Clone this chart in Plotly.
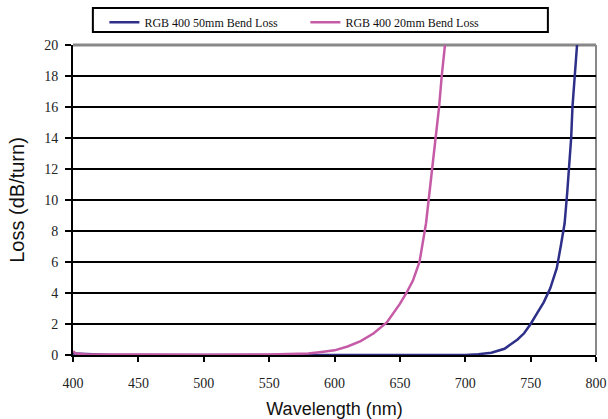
import plotly.graph_objects as go

# 20mm bend loss (pink)
wl_20 = [400, 402, 410, 450, 500, 550, 570, 580, 590, 600, 610, 620, 630, 640, 650, 655, 660, 665, 670, 674, 677, 680, 682, 684.5]
loss_20 = [0.25, 0.1, 0.05, 0.02, 0.02, 0.03, 0.05, 0.1, 0.2, 0.3, 0.55, 0.9, 1.4, 2.1, 3.3, 4.0, 4.8, 6.0, 8.5, 11.5, 14.0, 16.0, 18.0, 20.0]

# 50mm bend loss (navy)
wl_50 = [400, 410, 420, 430, 500, 600, 700, 710, 720, 730, 740, 745, 750, 755, 760, 765, 770, 773, 776, 778, 780, 781, 782, 784, 785.5]
loss_50 = [0.1, 0.08, 0.02, 0.0, 0.0, 0.0, 0.0, 0.05, 0.15, 0.4, 1.0, 1.4, 2.0, 2.7, 3.4, 4.3, 5.6, 7.0, 8.5, 10.5, 12.5, 14.0, 16.0, 18.0, 20.0]

x_ticks = [400, 450, 500, 550, 600, 650, 700, 750, 800]
y_ticks = [0, 2, 4, 6, 8, 10, 12, 14, 16, 18, 20]

fig = go.Figure()
fig.add_trace(go.Scatter(x=wl_50, y=loss_50, mode="lines", name="RGB 400 50mm Bend Loss",
                         line=dict(color="#2d2f88", width=2.5)))
fig.add_trace(go.Scatter(x=wl_20, y=loss_20, mode="lines", name="RGB 400 20mm Bend Loss",
                         line=dict(color="#c55aa7", width=2.5)))

tickfont = dict(family="Liberation Serif, Times New Roman, serif", size=14, color="#222")
xtitlefont = dict(family="Liberation Sans, Arial, sans-serif", size=18, color="#111")
ytitlefont = dict(family="Liberation Sans, Arial, sans-serif", size=20, color="#111")

fig.update_layout(
    width=608, height=419,
    margin=dict(l=73, r=12, t=45, b=64, autoexpand=False),
    paper_bgcolor="white", plot_bgcolor="white",
    showlegend=True,
    legend=dict(orientation="h", x=0.06, xanchor="left", y=1.12, yanchor="top",
                borderwidth=0, bgcolor="rgba(0,0,0,0)",
                font=dict(family="Liberation Serif, Times New Roman, serif", size=12, color="#111"),
                entrywidth=156, itemwidth=30, tracegroupgap=0),
    xaxis=dict(range=[400, 800], tickvals=x_ticks, showgrid=False, zeroline=False,
               showline=True, linecolor="black", linewidth=2,
               ticks="outside", ticklen=5, tickwidth=2, tickcolor="black",
               tickfont=tickfont, automargin=False, ticklabelstandoff=9,
               title=dict(text="Wavelength (nm)", font=xtitlefont, standoff=20)),
    yaxis=dict(range=[0, 20], tickvals=y_ticks, showgrid=True, gridcolor="black", gridwidth=2,
               zeroline=False, showline=True, linecolor="black", linewidth=2,
               ticks="outside", ticklen=6, tickwidth=2, tickcolor="black",
               tickfont=tickfont, automargin=False, ticklabelstandoff=4,
               title=dict(text="Loss (dB/turn)", font=ytitlefont, standoff=14)),
)
# gray top and right frame
fig.add_shape(type="line", xref="paper", yref="paper", x0=0, x1=1, y0=1, y1=1,
              line=dict(color="#888888", width=3), layer="below")
fig.add_shape(type="line", xref="paper", yref="paper", x0=1, x1=1, y0=0, y1=1,
              line=dict(color="#888888", width=2), layer="below")
# legend frame
fig.add_shape(type="rect", xref="paper", yref="paper", x0=0.038, x1=0.908, y0=1.042, y1=1.119,
              line=dict(color="black", width=2), fillcolor="rgba(0,0,0,0)")

fig.write_html("out.html", config={"displayModeBar": False},
               post_script="document.body.style.margin='0';document.body.style.overflow='hidden';")
